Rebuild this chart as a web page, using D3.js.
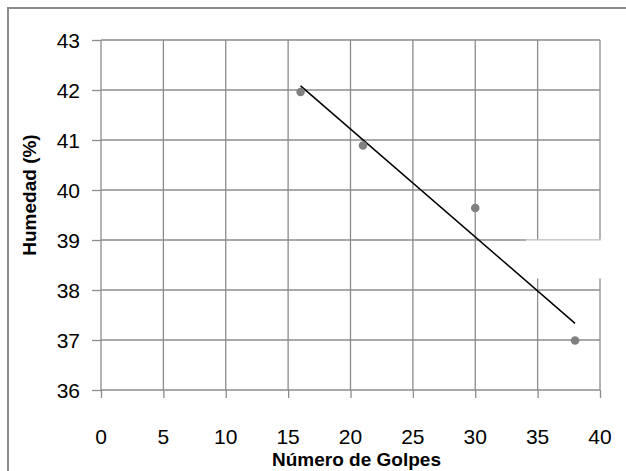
<!DOCTYPE html>
<html>
<head>
<meta charset="utf-8">
<script src="https://cdn.jsdelivr.net/npm/d3@7"></script>
<style>
  body { margin: 0; background: #fff; }
  text { font-family: "Liberation Sans", Arial, sans-serif; fill: #000; }
</style>
</head>
<body>
<div id="chart"></div>
<script>
// datos
var golpes = [16, 21, 30, 38];
var humedad = [41.96, 40.89, 39.64, 36.99];
var xTicks = [0, 5, 10, 15, 20, 25, 30, 35, 40];
var yTicks = [36, 37, 38, 39, 40, 41, 42, 43];

var width = 626;
var height = 471;
var margin = { top: 40, right: 26, bottom: 81, left: 101 };

var svg = d3.select("#chart")
  .append("svg")
  .attr("width", width)
  .attr("height", height);

var x = d3.scaleLinear().domain([0, 40]).range([margin.left, width - margin.right]);
var y = d3.scaleLinear().domain([36, 43]).range([height - margin.bottom, margin.top]);

// borde del grafico
svg.append("path")
  .attr("d", "M8," + height + "V8H" + width)
  .attr("fill", "none")
  .attr("stroke", "#8a8a8a")
  .attr("stroke-width", 2);

var gridColor = "#8c8c8c";

// lineas de cuadricula horizontales + marcas
svg.append("g")
  .attr("transform", "translate(" + x(0) + ",0)")
  .call(d3.axisLeft(y).tickValues(yTicks).tickSize(9).tickFormat(""))
  .call(function (g) { g.select(".domain").remove(); })
  .selectAll("line")
  .attr("stroke", gridColor)
  .attr("stroke-width", 1.3);

svg.append("g")
  .selectAll("line")
  .data(yTicks)
  .enter()
  .append("line")
  .attr("x1", x(0))
  .attr("x2", x(40))
  .attr("y1", function (d) { return y(d); })
  .attr("y2", function (d) { return y(d); })
  .attr("stroke", gridColor)
  .attr("stroke-width", 1.3);

// lineas verticales + marcas
svg.append("g")
  .attr("transform", "translate(0," + y(36) + ")")
  .call(d3.axisBottom(x).tickValues(xTicks).tickSize(8).tickFormat(""))
  .call(function (g) { g.select(".domain").remove(); })
  .selectAll("line")
  .attr("stroke", gridColor)
  .attr("stroke-width", 1.3);

svg.append("g")
  .selectAll("line")
  .data(xTicks)
  .enter()
  .append("line")
  .attr("x1", function (d) { return x(d); })
  .attr("x2", function (d) { return x(d); })
  .attr("y1", y(43))
  .attr("y2", y(36))
  .attr("stroke", gridColor)
  .attr("stroke-width", 1.3);

// etiquetas de los ejes
svg.append("g")
  .selectAll("text")
  .data(yTicks)
  .enter()
  .append("text")
  .attr("x", 80)
  .attr("y", function (d) { return y(d); })
  .attr("dy", "0.36em")
  .attr("text-anchor", "end")
  .attr("font-size", 21)
  .text(function (d) { return d; });

svg.append("g")
  .selectAll("text")
  .data(xTicks)
  .enter()
  .append("text")
  .attr("x", function (d) { return x(d); })
  .attr("y", 444)
  .attr("text-anchor", "middle")
  .attr("font-size", 21)
  .text(function (d) { return d; });

svg.append("text")
  .attr("x", (x(0) + x(40)) / 2 + 6)
  .attr("y", 466)
  .attr("text-anchor", "middle")
  .attr("font-size", 19)
  .attr("font-weight", "bold")
  .text("Número de Golpes");

svg.append("text")
  .attr("transform", "translate(36,195) rotate(-90)")
  .attr("text-anchor", "middle")
  .attr("font-size", 19)
  .attr("font-weight", "bold")
  .text("Humedad (%)");

// linea de tendencia (minimos cuadrados)
var mx = d3.mean(golpes), my = d3.mean(humedad);
var sxy = d3.sum(golpes, function (g, i) { return (g - mx) * (humedad[i] - my); });
var sxx = d3.sum(golpes, function (g) { return (g - mx) * (g - mx); });
var m = sxy / sxx, b = my - m * mx;
var xExt = d3.extent(golpes);

svg.append("line")
  .attr("x1", x(xExt[0]))
  .attr("y1", y(m * xExt[0] + b))
  .attr("x2", x(xExt[1]))
  .attr("y2", y(m * xExt[1] + b))
  .attr("stroke", "#000")
  .attr("stroke-width", 1.5);

// puntos
svg.append("g")
  .selectAll("circle")
  .data(golpes)
  .enter()
  .append("circle")
  .attr("cx", function (d) { return x(d); })
  .attr("cy", function (d, i) { return y(humedad[i]); })
  .attr("r", 4.3)
  .attr("fill", "#808080");

// recuadro blanco (leyenda oculta)
svg.append("rect")
  .attr("x", 526)
  .attr("y", y(39) + 0.5)
  .attr("width", 78)
  .attr("height", 38)
  .attr("fill", "#fff");
svg.append("line")
  .attr("x1", 526)
  .attr("x2", 602)
  .attr("y1", y(39))
  .attr("y2", y(39))
  .attr("stroke", "#ececec")
  .attr("stroke-width", 1);
</script>
</body>
</html>
